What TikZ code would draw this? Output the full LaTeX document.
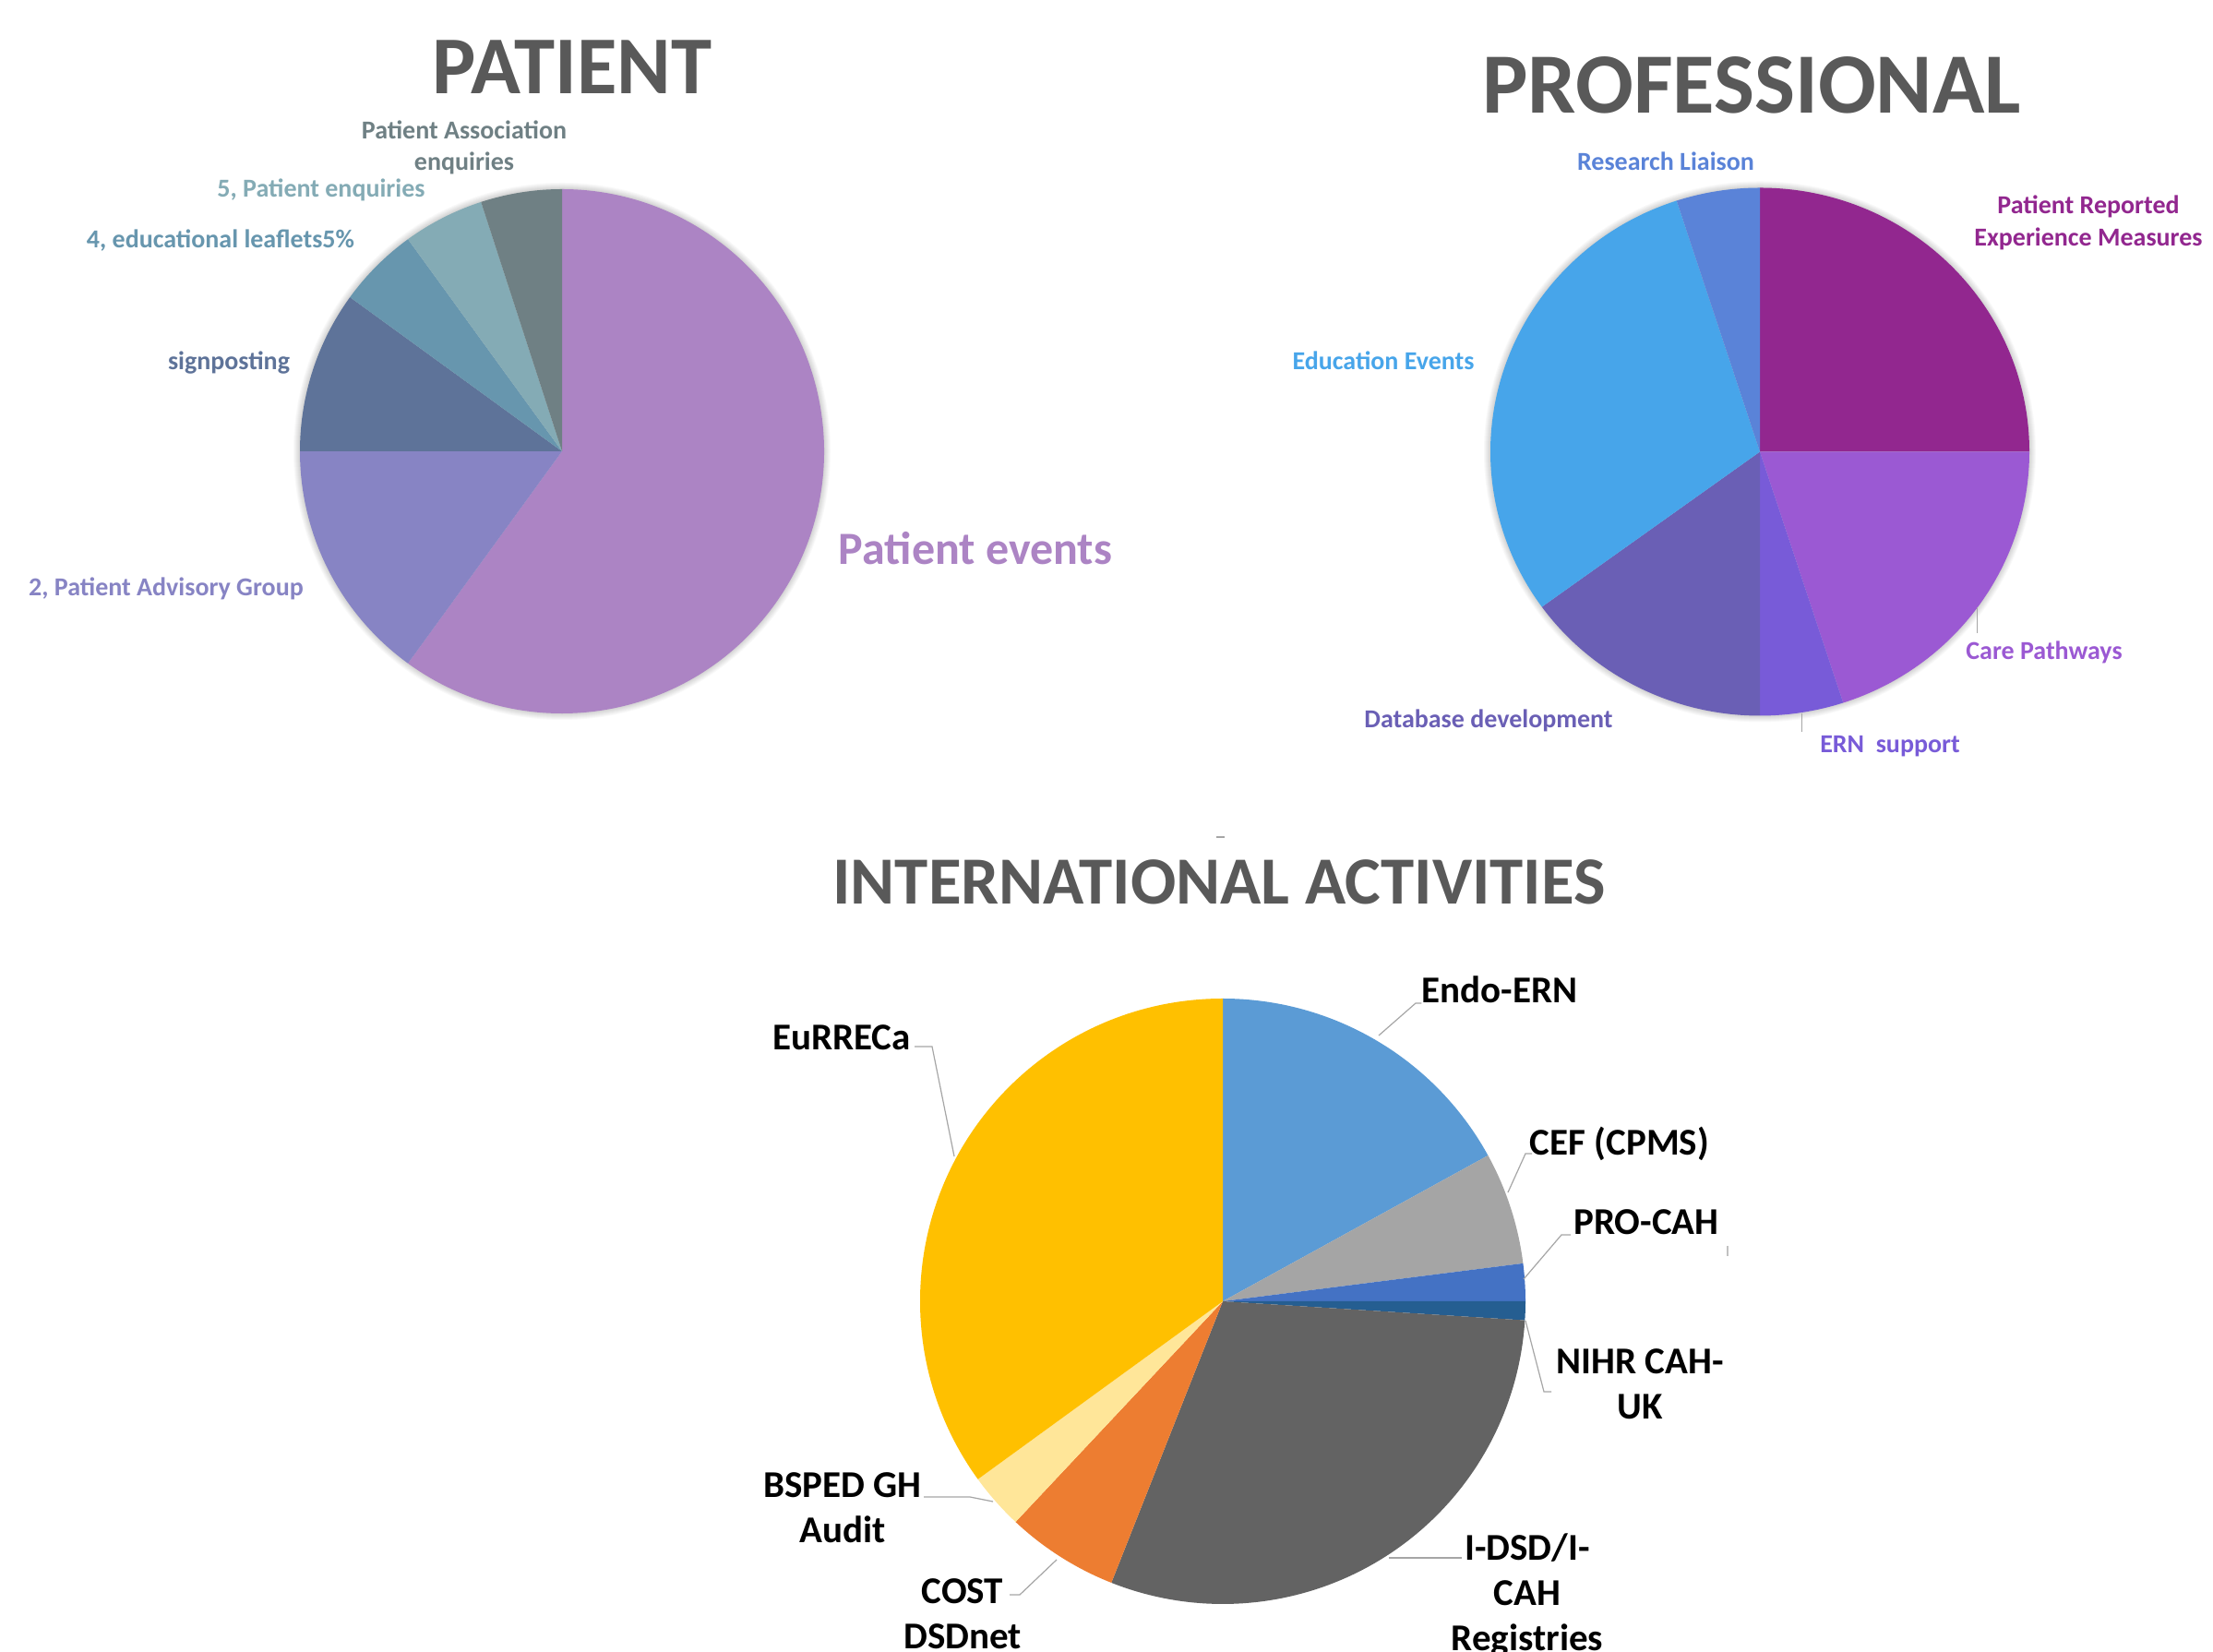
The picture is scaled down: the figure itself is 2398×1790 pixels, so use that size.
\documentclass[tikz,border=0pt]{standalone}
\usepackage{fontspec}
\setmainfont{Carlito}
\definecolor{ttlgray}{HTML}{595959}
\definecolor{pEvents}{HTML}{AC84C4}
\definecolor{pAdvisory}{HTML}{8784C4}
\definecolor{pSign}{HTML}{5E7399}
\definecolor{pLeaf}{HTML}{6796AE}
\definecolor{pEnq}{HTML}{84ABB5}
\definecolor{pAssoc}{HTML}{6F8084}
\definecolor{fPrem}{HTML}{92278F}
\definecolor{fCare}{HTML}{9B59D3}
\definecolor{fErn}{HTML}{785BD8}
\definecolor{fData}{HTML}{6A5FB5}
\definecolor{fEdu}{HTML}{47A5EA}
\definecolor{fRes}{HTML}{5A83D8}
\definecolor{iEndo}{HTML}{5B9BD5}
\definecolor{iCef}{HTML}{A5A5A5}
\definecolor{iPro}{HTML}{4472C4}
\definecolor{iNihr}{HTML}{255E91}
\definecolor{iDsd}{HTML}{636363}
\definecolor{iCost}{HTML}{ED7D31}
\definecolor{iBsped}{HTML}{FFE699}
\definecolor{iEur}{HTML}{FFC000}
\definecolor{leadergray}{HTML}{A6A6A6}
\newcommand\pieslice[7]{\fill[#7] (#1,#2) -- ++(#5:#3 and #4) arc[start angle=#5, end angle=#6, x radius=#3, y radius=#4] -- cycle;}
\newcommand\pieglow[4]{\foreach \k in {1,...,7}{\fill[black,opacity=0.025] (#1,#2) ellipse[x radius=#3+\k, y radius=#4+\k];}}
\tikzset{
  ttl/.style={font=\bfseries\fontsize{#1}{#1}\selectfont, text=ttlgray, inner sep=0pt, anchor=center},
  plbl/.style={font=\bfseries\fontsize{28}{34}\selectfont, inner sep=0pt, anchor=base, align=center},
  ilbl/.style={font=\bfseries\fontsize{41}{49}\selectfont, inner sep=0pt, anchor=base, align=center, text=black},
  leader/.style={draw=leadergray, line width=1.2pt}
}
\begin{document}
\begin{tikzpicture}[x=1pt,y=1pt]
\useasboundingbox (0,0) rectangle (2398,1790);
\fill[white] (0,0) rectangle (2398,1790);

% ---------------- PATIENT ----------------
\node[ttl=89] (tPatient) at (620,1717.5) {PATIENT};
\pieglow{609}{1301}{284}{284}
\pieslice{609}{1301}{284}{284}{-126}{90}{pEvents}
\pieslice{609}{1301}{284}{284}{180}{234}{pAdvisory}
\pieslice{609}{1301}{284}{284}{144}{180}{pSign}
\pieslice{609}{1301}{284}{284}{126}{144}{pLeaf}
\pieslice{609}{1301}{284}{284}{108}{126}{pEnq}
\pieslice{609}{1301}{284}{284}{90}{108}{pAssoc}
\node[plbl, text=pAssoc] (lAssoc) at (503,1639) {Patient Association};
\node[plbl, text=pAssoc] (lAssoc2) at (503,1605) {enquiries};
\node[plbl, text=pEnq] (lEnq) at (348,1576) {5, Patient enquiries};
\node[plbl, text=pLeaf] (lLeaf) at (239,1521) {4, educational leaflets5\%};
\node[plbl, text=pSign] (lSign) at (248,1389) {signposting};
\node[plbl, text=pAdvisory] (lAdv) at (180,1144) {2, Patient Advisory Group};
\node[font=\bfseries\fontsize{50}{60}\selectfont, inner sep=0pt, anchor=base, text=pEvents] (lEvents) at (1057,1178) {Patient events};

% ---------------- PROFESSIONAL ----------------
\node[ttl=93] (tProf) at (1898,1698) {PROFESSIONAL};
\pieglow{1907}{1300.5}{292}{286}
\pieslice{1907}{1300.5}{292}{286}{0}{90}{fPrem}
\pieslice{1907}{1300.5}{292}{286}{-72}{0}{fCare}
\pieslice{1907}{1300.5}{292}{286}{-90}{-72}{fErn}
\pieslice{1907}{1300.5}{292}{286}{-144}{-90}{fData}
\pieslice{1907}{1300.5}{292}{286}{108}{216}{fEdu}
\pieslice{1907}{1300.5}{292}{286}{90}{108}{fRes}
\node[plbl, text=fRes] (lRes) at (1805,1605) {Research Liaison};
\node[plbl, text=fPrem] (lPrem) at (2263,1558) {Patient Reported};
\node[plbl, text=fPrem] (lPrem2) at (2263,1523) {Experience Measures};
\node[plbl, text=fEdu] (lEdu) at (1499,1389) {Education Events};
\node[plbl, text=fCare] (lCare) at (2215,1075) {Care Pathways};
\node[plbl, text=fData] (lData) at (1613,1001) {Database development};
\node[plbl, text=fErn] (lErn) at (2048,974) {ERN\ \ support};
\coordinate (cCareA) at (2142,1132);
\coordinate (cCareB) at (2142,1104);
\draw[leader, line width=1pt] (cCareA) -- (cCareB);
\coordinate (cErnA) at (1952,1017);
\coordinate (cErnB) at (1952,997);
\draw[leader, line width=1pt] (cErnA) -- (cErnB);

% ---------------- INTERNATIONAL ----------------
\node[ttl=73] (tIntl) at (1321,834) {INTERNATIONAL ACTIVITIES};
\coordinate (artA) at (1318,883);
\coordinate (artB) at (1327,883);
\draw[leadergray, line width=1.5pt] (artA) -- (artB);
\coordinate (artC) at (1872,440);
\coordinate (artD) at (1872,429);
\draw[leadergray!70, line width=1.5pt] (artC) -- (artD);

\pieslice{1325}{380}{328}{328}{28.8}{90}{iEndo}
\pieslice{1325}{380}{328}{328}{7.2}{28.8}{iCef}
\pieslice{1325}{380}{328}{328}{0}{7.2}{iPro}
\pieslice{1325}{380}{328}{328}{-3.6}{0}{iNihr}
\pieslice{1325}{380}{328}{328}{-111.6}{-3.6}{iDsd}
\pieslice{1325}{380}{328}{328}{-133.2}{-111.6}{iCost}
\pieslice{1325}{380}{328}{328}{-144}{-133.2}{iBsped}
\pieslice{1325}{380}{328}{328}{90}{216}{iEur}

% base anchor of a multi-line node sits on its last line
\node[ilbl] (lEndo) at (1625,703) {Endo-ERN};
\node[ilbl] (lEur) at (912,652) {EuRRECa};
\node[ilbl] (lCef) at (1755,538) {CEF (CPMS)};
\node[ilbl] (lPro) at (1784,452) {PRO-CAH};
\node[ilbl] (lNihr) at (1777,252) {NIHR CAH-\\UK};
\node[ilbl] (lDsd) at (1655,1) {I-DSD/I-\\CAH\\Registries};
\node[ilbl] (lCost) at (1043,3) {COST\\DSDnet};
\node[ilbl] (lBsped) at (913,118) {BSPED GH\\Audit};

\coordinate (eEndo) at (1494,668);
\coordinate (kEndo) at (1534,703);
\draw[leader] (eEndo) -- (kEndo) -- (lEndo.base west);
\coordinate (eEur) at (1034,537);
\coordinate (kEur) at (1010,656);
\draw[leader] (eEur) -- (kEur) -- (991,656);
\coordinate (eCef) at (1634,498);
\coordinate (kCef) at (1653,540);
\draw[leader] (eCef) -- (kCef) -- (1660,540);
\coordinate (ePro) at (1651,404);
\coordinate (kPro) at (1692,452);
\draw[leader] (ePro) -- (kPro) -- (1702,452);
\coordinate (eNihr) at (1653,359);
\coordinate (kNihr) at (1673,282);
\draw[leader] (eNihr) -- (kNihr) -- (1681,282);
\coordinate (eDsd) at (1505,102);
\draw[leader] (eDsd) -- (1584,102);
\coordinate (eCost) at (1145,100);
\coordinate (kCost) at (1105,62);
\draw[leader] (eCost) -- (kCost) -- (1094,62);
\coordinate (eBsped) at (1076,163);
\coordinate (kBsped) at (1051,168);
\draw[leader] (eBsped) -- (kBsped) -- (1001,168);
\end{tikzpicture}
\end{document}
